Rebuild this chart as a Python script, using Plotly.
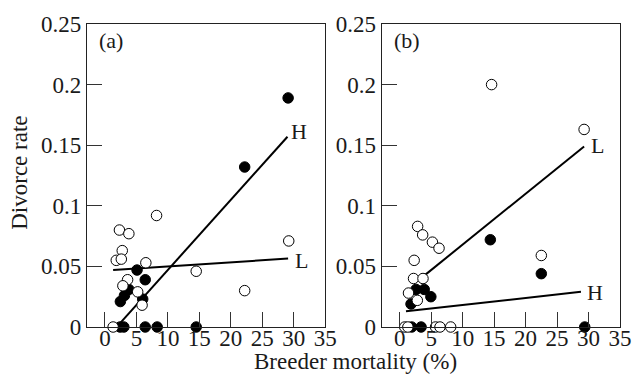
import plotly.graph_objects as go

# ---- data ----
xa_open = [1.3, 2.3, 3.8, 2.75, 1.8, 2.6, 6.5, 3.6, 2.85, 5.2, 5.9, 8.2, 14.5, 22.2, 29.2]
ya_open = [0.0, 0.080, 0.077, 0.063, 0.055, 0.056, 0.053, 0.039, 0.034, 0.029, 0.018, 0.092, 0.046, 0.030, 0.071]
xa_fill = [2.4, 3.0, 6.4, 8.3, 14.5, 5.1, 6.4, 2.45, 3.1, 3.8, 6.0, 22.2, 29.1]
ya_fill = [0.0, 0.0, 0.0, 0.0, 0.0, 0.047, 0.039, 0.021, 0.026, 0.031, 0.023, 0.132, 0.189]

xb_open = [14.6, 29.3, 2.85, 3.65, 5.2, 6.25, 2.3, 2.2, 3.7, 1.4, 2.8, 22.5, 0.8, 1.3, 5.7, 6.4, 8.1]
yb_open = [0.200, 0.163, 0.083, 0.076, 0.070, 0.065, 0.055, 0.040, 0.040, 0.028, 0.022, 0.059, 0.0, 0.0, 0.0, 0.0, 0.0]
xb_fill = [14.4, 22.5, 2.6, 3.9, 4.95, 1.8, 1.9, 3.4, 29.4]
yb_fill = [0.072, 0.044, 0.031, 0.031, 0.025, 0.019, 0.0, 0.0, 0.0]

# regression lines (end points)
a_H_x = [2.2, 29.0]
a_H_y = [0.002, 0.157]
a_L_x = [1.3, 29.1]
a_L_y = [0.047, 0.0565]
b_L_x = [3.9, 29.3]
b_L_y = [0.0424, 0.149]
b_H_x = [1.0, 28.8]
b_H_y = [0.013, 0.029]

x_ticks = [0, 5, 10, 15, 20, 25, 30, 35]
y_ticks = [0, 0.05, 0.1, 0.15, 0.2, 0.25]
y_ticktext = ["0", "0.05", "0.1", "0.15", "0.2", "0.25"]

FONT = "Liberation Serif"
TXT = "#1a1a1a"
fig = go.Figure()

def add_panel(xref, yref, xo, yo, xf, yf, lines):
    for lx, ly in lines:
        fig.add_trace(go.Scatter(x=lx, y=ly, mode="lines", xaxis=xref, yaxis=yref,
                                 line=dict(color="black", width=2), showlegend=False,
                                 hoverinfo="skip"))
    fig.add_trace(go.Scatter(x=xf, y=yf, mode="markers", xaxis=xref, yaxis=yref,
                             marker=dict(size=10.5, color="black", line=dict(color="black", width=1)),
                             cliponaxis=False, showlegend=False))
    fig.add_trace(go.Scatter(x=xo, y=yo, mode="markers", xaxis=xref, yaxis=yref,
                             marker=dict(size=10.5, color="white", line=dict(color="black", width=1)),
                             cliponaxis=False, showlegend=False))

add_panel("x", "y", xa_open, ya_open, xa_fill, ya_fill, [(a_H_x, a_H_y), (a_L_x, a_L_y)])
add_panel("x2", "y2", xb_open, yb_open, xb_fill, yb_fill, [(b_L_x, b_L_y), (b_H_x, b_H_y)])

ax_common = dict(showgrid=False, zeroline=False, showline=True, linecolor="#222", linewidth=1.3,
                 mirror=True, ticks="inside", ticklen=15, tickwidth=1.3, tickcolor="#333",
                 tickfont=dict(family=FONT, size=23, color=TXT))

fig.update_layout(
    width=643, height=386,
    margin=dict(l=87, r=14, t=17, b=59),
    paper_bgcolor="white", plot_bgcolor="white",
    xaxis=dict(domain=[0, 0.447], range=[-2.85, 35], tickvals=x_ticks, anchor="y",
               ticklabelstandoff=-10, **ax_common),
    yaxis=dict(domain=[0, 1], range=[0, 0.25], tickvals=y_ticks, ticktext=y_ticktext, anchor="x", **ax_common),
    xaxis2=dict(domain=[0.553, 1], range=[-2.85, 35], tickvals=x_ticks, anchor="y2",
                ticklabelstandoff=-10, **ax_common),
    yaxis2=dict(domain=[0, 1], range=[0, 0.25], tickvals=y_ticks, ticktext=y_ticktext, anchor="x2", **ax_common),
)

lab_font = dict(family=FONT, size=22, color=TXT)
title_font = dict(family=FONT, size=23, color=TXT)
ann = [
    dict(text="(a)", x=-1.3, y=0.236, xref="x", yref="y", xanchor="left", yanchor="middle", showarrow=False, font=lab_font),
    dict(text="(b)", x=-1.3, y=0.236, xref="x2", yref="y2", xanchor="left", yanchor="middle", showarrow=False, font=lab_font),
    dict(text="H", x=30.8, y=0.161, xref="x", yref="y", showarrow=False, font=lab_font),
    dict(text="L", x=31.15, y=0.0547, xref="x", yref="y", showarrow=False, font=lab_font),
    dict(text="L", x=31.4, y=0.150, xref="x2", yref="y2", showarrow=False, font=lab_font),
    dict(text="H", x=31.1, y=0.0284, xref="x2", yref="y2", showarrow=False, font=lab_font),
    dict(text="Breeder mortality (%)", x=0.503, y=-0.115, xref="paper", yref="paper",
         xanchor="center", yanchor="middle", showarrow=False, font=title_font),
    dict(text="Divorce rate", x=-0.127, y=0.51, xref="paper", yref="paper", textangle=-90,
         xanchor="center", yanchor="middle", showarrow=False, font=title_font),
]
fig.update_layout(annotations=ann)

fig.write_html("out.html")
